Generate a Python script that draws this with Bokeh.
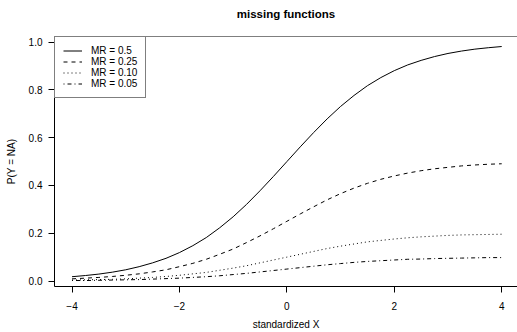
from bokeh.plotting import figure
from bokeh.models import Range1d, FixedTicker, Span, PrintfTickFormatter, Title
from bokeh.embed import file_html
from bokeh.resources import INLINE

x_vals = [-4.0, -3.75, -3.5, -3.25, -3.0, -2.75, -2.5, -2.25, -2.0, -1.75, -1.5, -1.25,
          -1.0, -0.75, -0.5, -0.25, 0.0, 0.25, 0.5, 0.75, 1.0, 1.25, 1.5, 1.75, 2.0,
          2.25, 2.5, 2.75, 3.0, 3.25, 3.5, 3.75, 4.0]
mr_050 = [0.018, 0.023, 0.029, 0.037, 0.047, 0.060, 0.076, 0.095, 0.119, 0.148, 0.182, 0.223,
          0.269, 0.321, 0.378, 0.438, 0.500, 0.562, 0.622, 0.679, 0.731, 0.777, 0.818, 0.852,
          0.881, 0.905, 0.924, 0.940, 0.953, 0.963, 0.971, 0.977, 0.982]
mr_025 = [0.009, 0.012, 0.015, 0.019, 0.024, 0.030, 0.038, 0.047, 0.060, 0.074, 0.091, 0.112,
          0.134, 0.161, 0.189, 0.219, 0.250, 0.281, 0.311, 0.340, 0.366, 0.389, 0.409, 0.426,
          0.440, 0.452, 0.462, 0.470, 0.476, 0.482, 0.486, 0.489, 0.491]
mr_010 = [0.004, 0.005, 0.006, 0.007, 0.009, 0.012, 0.015, 0.019, 0.024, 0.030, 0.036, 0.045,
          0.054, 0.064, 0.076, 0.088, 0.100, 0.112, 0.124, 0.136, 0.146, 0.155, 0.164, 0.170,
          0.176, 0.181, 0.185, 0.188, 0.191, 0.193, 0.194, 0.195, 0.196]
mr_005 = [0.002, 0.002, 0.003, 0.004, 0.005, 0.006, 0.008, 0.010, 0.012, 0.015, 0.018, 0.022,
          0.027, 0.032, 0.038, 0.044, 0.050, 0.056, 0.062, 0.068, 0.073, 0.078, 0.082, 0.085,
          0.088, 0.091, 0.092, 0.094, 0.095, 0.096, 0.097, 0.098, 0.098]

series_labels = ["MR = 0.5", "MR = 0.25", "MR = 0.10", "MR = 0.05"]
x_ticks = [-4, -2, 0, 2, 4]
x_tick_labels = ["\u22124", "\u22122", "0", "2", "4"]
y_ticks = [0.0, 0.2, 0.4, 0.6, 0.8, 1.0]
title_text = "missing functions"

FONT = "Liberation Sans"
X0, X1 = -4.326, 4.294
Y0, Y1 = -0.023, 1.024

p = figure(width=517, height=332, output_backend="svg", toolbar_location=None,
           x_range=Range1d(X0, X1), y_range=Range1d(Y0, Y1),
           min_border_left=54, min_border_right=0, min_border_top=36, min_border_bottom=46)

# small spacer panel next to the box, then the real title above it
spacer = Title(text=" ", text_font_size="1px", standoff=5)
p.add_layout(spacer, "above")
title = Title(text=title_text, align="center", vertical_align="top", standoff=13,
              text_font=FONT, text_font_size="11.5px", text_font_style="bold",
              text_color="black")
p.add_layout(title, "above")

p.grid.visible = False
p.outline_line_color = None
p.background_fill_color = "white"

for ax in (p.xaxis[0], p.yaxis[0]):
    ax.axis_line_color = "black"
    ax.major_tick_line_color = "black"
    ax.major_tick_out = 6
    ax.major_tick_in = 0
    ax.minor_tick_line_color = None
    ax.major_label_text_font = FONT
    ax.major_label_text_font_size = "10px"
    ax.major_label_text_color = "black"
    ax.axis_label_text_font = FONT
    ax.axis_label_text_font_size = "10px"
    ax.axis_label_text_font_style = "normal"
    ax.axis_label_text_color = "black"

p.xaxis.ticker = FixedTicker(ticks=x_ticks)
p.xaxis.major_label_overrides = {t: l for t, l in zip(x_ticks, x_tick_labels)}
p.xaxis.axis_label = "standardized X"
p.xaxis.major_label_standoff = 9
p.xaxis.axis_label_standoff = 6

p.yaxis.ticker = FixedTicker(ticks=y_ticks)
p.yaxis.formatter = PrintfTickFormatter(format="%.1f")
p.yaxis.axis_label = "P(Y = NA)"
p.yaxis.major_label_standoff = 6
p.yaxis.axis_label_standoff = 9

# top edge of the plot box
p.add_layout(Span(location=Y1, dimension="width", line_color="black", line_width=1))

dashes = ["solid", "4 4", "1 3", "1 3 4 3"]
for ys, lab, d in zip([mr_050, mr_025, mr_010, mr_005], series_labels, dashes):
    p.line(x_vals, ys, line_color="black", line_width=1, line_dash=d, legend_label=lab)

lg = p.legend[0]
lg.location = "top_left"
lg.margin = 0
lg.border_line_color = "black"
lg.border_line_width = 1
lg.background_fill_alpha = 1
lg.padding = 8
lg.spacing = 0
lg.glyph_width = 19
lg.glyph_height = 11
lg.label_height = 11
lg.label_standoff = 9
lg.label_text_font = FONT
lg.label_text_font_size = "10px"
lg.label_text_color = "black"

open("out.html", "w").write(file_html(p, INLINE))
